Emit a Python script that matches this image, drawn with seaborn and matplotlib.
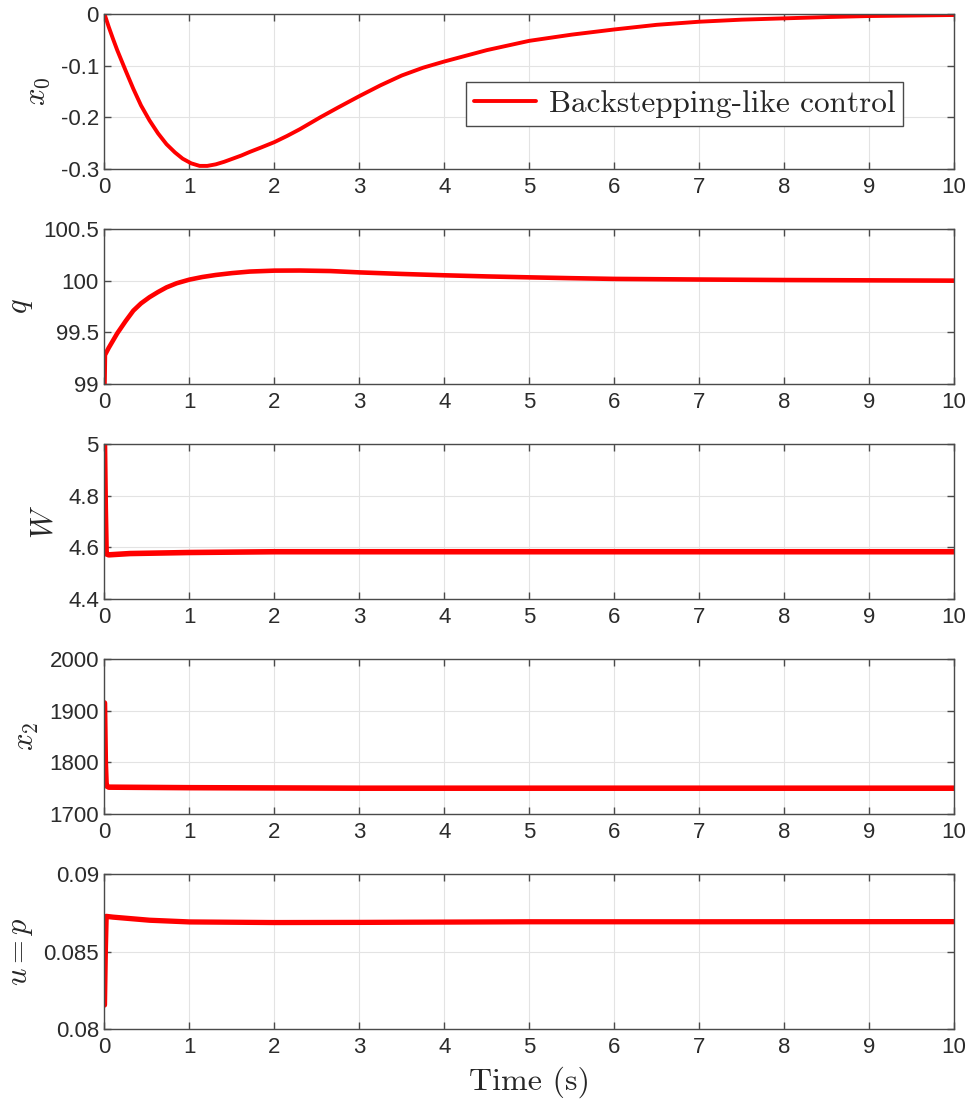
import pandas as pd
import seaborn as sns
import matplotlib.pyplot as plt

# values
t_x0 = [0, 0.05, 0.1, 0.15, 0.25, 0.34, 0.43, 0.53, 0.63, 0.73, 0.83, 0.92, 1.02, 1.12,
        1.21, 1.31, 1.41, 1.51, 1.61, 1.71, 1.85, 2.0, 2.15, 2.3, 2.54, 2.75, 3.0, 3.25,
        3.5, 3.75, 4.0, 4.5, 5.0, 5.5, 6.0, 6.5, 7.0, 7.5, 8.0, 8.5, 9.0, 9.5, 10.0]
x0 = [0, -0.025, -0.048, -0.07, -0.11, -0.145, -0.177, -0.206, -0.231, -0.252, -0.268,
      -0.280, -0.289, -0.294, -0.294, -0.291, -0.286, -0.280, -0.274, -0.267, -0.258,
      -0.248, -0.236, -0.223, -0.200, -0.181, -0.159, -0.138, -0.119, -0.104, -0.092,
      -0.070, -0.052, -0.040, -0.030, -0.021, -0.015, -0.011, -0.0085, -0.006, -0.004,
      -0.003, -0.002]

t_q = [0, 0.005, 0.05, 0.1, 0.15, 0.25, 0.34, 0.43, 0.53, 0.63, 0.73, 0.85, 1.0, 1.15,
       1.31, 1.5, 1.71, 2.0, 2.3, 2.66, 3.0, 3.5, 4.0, 4.5, 5.0, 5.5, 6.0, 7.0, 8.0, 9.0, 10.0]
q = [99.0, 99.28, 99.35, 99.42, 99.49, 99.61, 99.71, 99.78, 99.84, 99.89, 99.935, 99.975,
     100.01, 100.035, 100.055, 100.073, 100.088, 100.097, 100.098, 100.093, 100.08, 100.065,
     100.052, 100.041, 100.032, 100.024, 100.017, 100.011, 100.006, 100.003, 100.0]

t_W = [0, 0.01, 0.02, 0.05, 0.3, 1.0, 2.0, 4.0, 6.0, 8.0, 10.0]
W = [5.0, 4.75, 4.575, 4.571, 4.576, 4.580, 4.583, 4.583, 4.583, 4.583, 4.583]

t_x2 = [0, 0.01, 0.02, 0.05, 1.0, 3.0, 5.0, 7.0, 10.0]
x2 = [1915, 1800, 1755, 1752, 1751, 1750, 1750, 1750, 1750]

t_u = [0, 0.01, 0.02, 0.1, 0.53, 1.0, 2.0, 3.0, 5.0, 7.0, 10.0]
u = [0.08155, 0.0850, 0.08727, 0.08722, 0.08702, 0.08691, 0.08687, 0.08688, 0.08692,
     0.08692, 0.08693]

y_labels = [r'$x_0$', r'$q$', r'$W$', r'$x_2$', r'$u = p$']
y_ticks = [[-0.3, -0.2, -0.1, 0], [99, 99.5, 100, 100.5], [4.4, 4.6, 4.8, 5],
           [1700, 1800, 1900, 2000], [0.08, 0.085, 0.09]]
y_ticklabels = [['-0.3', '-0.2', '-0.1', '0'], ['99', '99.5', '100', '100.5'],
                ['4.4', '4.6', '4.8', '5'], ['1700', '1800', '1900', '2000'],
                ['0.08', '0.085', '0.09']]
x_ticks = list(range(11))
legend_label = 'Backstepping-like control'

sns.set_style("whitegrid")
plt.rcParams['font.family'] = ['Liberation Sans', 'DejaVu Sans']
plt.rcParams['mathtext.fontset'] = 'cm'
plt.rcParams['axes.unicode_minus'] = False

series = [(t_x0, x0), (t_q, q), (t_W, W), (t_x2, x2), (t_u, u)]
line_w = [2.8, 3.3, 4.0, 4.0, 3.8]  # later panels look thicker (chattering)

fig, axes = plt.subplots(5, 1, figsize=(9.71, 11), dpi=100)
fig.subplots_adjust(left=0.1076, right=0.9825, top=0.9873, bottom=0.0645, hspace=0.387)

for i, ax in enumerate(axes):
    tt, vv = series[i]
    df = pd.DataFrame({'t': tt, 'v': vv})
    sns.lineplot(data=df, x='t', y='v', ax=ax, color='#ff0000', linewidth=line_w[i],
                 estimator=None, sort=False,
                 label=legend_label if i == 0 else None)
    ax.set_xlim(0, 10)
    ax.set_ylim(y_ticks[i][0], y_ticks[i][-1])
    ax.set_xticks(x_ticks)
    ax.set_yticks(y_ticks[i])
    ax.set_yticklabels(y_ticklabels[i])
    ax.set_xlabel('')
    ax.set_ylabel(y_labels[i], fontsize=22, color='#262626', labelpad=6)
    ax.grid(True, color='#e3e3e3', linewidth=0.8)
    for s in ax.spines.values():
        s.set_visible(True)
        s.set_color('#4a4a4a')
        s.set_linewidth(1.0)
    ax.tick_params(direction='in', length=5, width=1, color='#4a4a4a',
                   labelsize=16, labelcolor='#2b2b2b',
                   top=True, right=True, bottom=True, left=True)
    ax.tick_params(axis='x', pad=6)
    ax.tick_params(axis='y', pad=4)

leg = axes[0].legend(loc='upper right', bbox_to_anchor=(0.94, 0.559),
                     prop={'family': 'cmr10', 'size': 22.5}, fancybox=False,
                     framealpha=1, edgecolor='#4a4a4a', handlelength=2.0,
                     borderpad=0.25, handletextpad=0.4, borderaxespad=0)
leg.get_frame().set_linewidth(1.0)

axes[-1].set_xlabel('Time (s)', family='cmr10', fontsize=23, color='#262626', labelpad=6)

fig.savefig('out.png', dpi=100)
